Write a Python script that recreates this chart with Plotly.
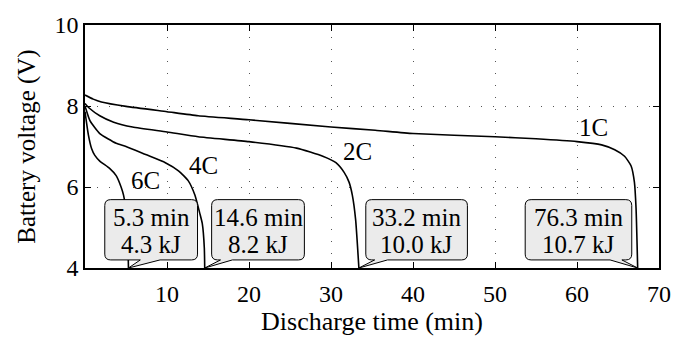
import plotly.graph_objects as go

# ---------------- data ----------------
rates = ["1C", "2C", "4C", "6C"]

t_1c = [0, 1, 2, 5, 10, 13.8, 20, 30, 35.4, 40, 50, 55, 60, 63, 64.6, 65.8, 66.6, 67.0, 67.2, 67.4]
v_1c = [8.27, 8.17, 8.10, 7.99, 7.86, 7.76, 7.66, 7.48, 7.40, 7.32, 7.24, 7.19, 7.12, 7.04, 6.92, 6.76, 6.52, 6.12, 5.48, 4.0]

t_2c = [0, 0.5, 1.8, 3.5, 5.8, 10, 13.8, 20, 25.8, 29, 30.6, 31.6, 32.2, 32.6, 33.0, 33.4]
v_2c = [8.06, 7.95, 7.76, 7.60, 7.48, 7.36, 7.24, 7.12, 6.96, 6.76, 6.60, 6.36, 6.12, 5.80, 5.20, 4.0]

t_4c = [0, 0.6, 1.8, 3.8, 5, 7.4, 9.8, 11.4, 12.6, 13.4, 14.0, 14.3, 14.55, 14.6]
v_4c = [8.0, 7.64, 7.32, 7.08, 7.0, 6.80, 6.60, 6.40, 6.15, 5.80, 5.35, 5.10, 4.5, 4.0]

t_6c = [0, 0.4, 0.8, 1.2, 1.8, 3.0, 3.8, 4.4, 4.7, 4.95, 5.2, 5.3]
v_6c = [7.86, 7.30, 6.95, 6.78, 6.64, 6.46, 6.28, 6.00, 5.80, 5.50, 4.80, 4.0]

box_minutes = [76.3, 33.2, 14.6, 5.3]
box_energy_kj = [10.7, 10.0, 8.2, 4.3]

x_ticks = [10, 20, 30, 40, 50, 60, 70]
y_ticks = [4, 6, 8, 10]

# ---------------- style / layout ----------------
W, H = 683, 342
ML, MR, MT, MB = 85, 16.3, 18.4, 73.7
XR = [0, 70]
YR = [4, 10]
PW = W - ML - MR
PH = H - MT - MB
dx = (XR[1] - XR[0]) / PW   # data per px
dy = (YR[1] - YR[0]) / PH

FONT = "Liberation Serif"

def txt(size=24):
    return dict(family=FONT, size=size, color="black")

curves = [(t_1c, v_1c), (t_2c, v_2c), (t_4c, v_4c), (t_6c, v_6c)]
# curve label placement (data coords)
label_pos = [(62.0, 7.48), (33.2, 6.88), (14.4, 6.52), (7.4, 6.16)]
# callout geometry in px relative to tip: box left, box right, tail base a, tail base b
callout_geo = [(-114, -6, -16, -28),
               (7, 110, 16, 29),
               (7, 101, 16, 28),
               (-24, 70, 12, 32)]
BOX_BOTTOM, BOX_TOP, RAD = 8.3, 70.3, 6

fig = go.Figure()

for (t, v) in curves:
    fig.add_trace(go.Scatter(x=t, y=v, mode="lines",
                             line=dict(color="black", width=1.6, shape="spline", smoothing=0.5),
                             showlegend=False, hoverinfo="skip"))

annotations = []
shapes = []
for name, (lx, ly) in zip(rates, label_pos):
    annotations.append(dict(x=lx, y=ly, text=name, showarrow=False, font=txt(25)))

for (t, v), geo, mins, kj in zip(curves, callout_geo, box_minutes, box_energy_kj):
    tx = t[-1]
    ty = YR[0]
    bl, br, a, b = geo

    def P(u, w):
        return f"{tx + u * dx:.5f},{ty + w * dy:.5f}"

    hi, lo = max(a, b), min(a, b)
    path = (f"M {P(bl + RAD, BOX_TOP)} L {P(br - RAD, BOX_TOP)} "
            f"Q {P(br, BOX_TOP)} {P(br, BOX_TOP - RAD)} "
            f"L {P(br, BOX_BOTTOM + RAD)} Q {P(br, BOX_BOTTOM)} {P(br - RAD, BOX_BOTTOM)} "
            f"L {P(hi, BOX_BOTTOM)} L {P(0, 0)} L {P(lo, BOX_BOTTOM)} "
            f"L {P(bl + RAD, BOX_BOTTOM)} Q {P(bl, BOX_BOTTOM)} {P(bl, BOX_BOTTOM + RAD)} "
            f"L {P(bl, BOX_TOP - RAD)} Q {P(bl, BOX_TOP)} {P(bl + RAD, BOX_TOP)} Z")
    shapes.append(dict(type="path", path=path, xref="x", yref="y",
                       fillcolor="#ebebeb", line=dict(color="black", width=1), layer="above"))
    cx = tx + (bl + br) / 2 * dx
    annotations.append(dict(x=cx, y=ty + 51.6 * dy, text=f"{mins:.1f} min", showarrow=False, font=txt(25)))
    annotations.append(dict(x=cx, y=ty + 24.3 * dy, text=f"{kj:.1f} kJ", showarrow=False, font=txt(25)))

def axis_common():
    return dict(showline=True, linecolor="black", linewidth=1.5, mirror="ticks",
                ticks="inside", ticklen=6, tickwidth=1, tickcolor="black",
                showgrid=True, gridcolor="#555", gridwidth=1, griddash="1px,11px",
                zeroline=False, tickfont=txt(24))

fig.update_layout(
    width=W, height=H,
    margin=dict(l=ML, r=MR, t=MT, b=MB),
    font=txt(),
    plot_bgcolor="white", paper_bgcolor="white",
    xaxis=dict(range=XR, tickvals=x_ticks, ticktext=[str(x) for x in x_ticks],
               ticklabelstandoff=3,
               title=dict(text="Discharge time (min)", font=txt(26), standoff=2),
               **axis_common()),
    yaxis=dict(range=YR, tickvals=y_ticks, ticktext=[str(y) for y in y_ticks],
               title=dict(text="Battery voltage (V)", font=txt(25), standoff=12),
               **axis_common()),
    shapes=shapes,
    annotations=annotations,
)

fig.write_html("out.html")
